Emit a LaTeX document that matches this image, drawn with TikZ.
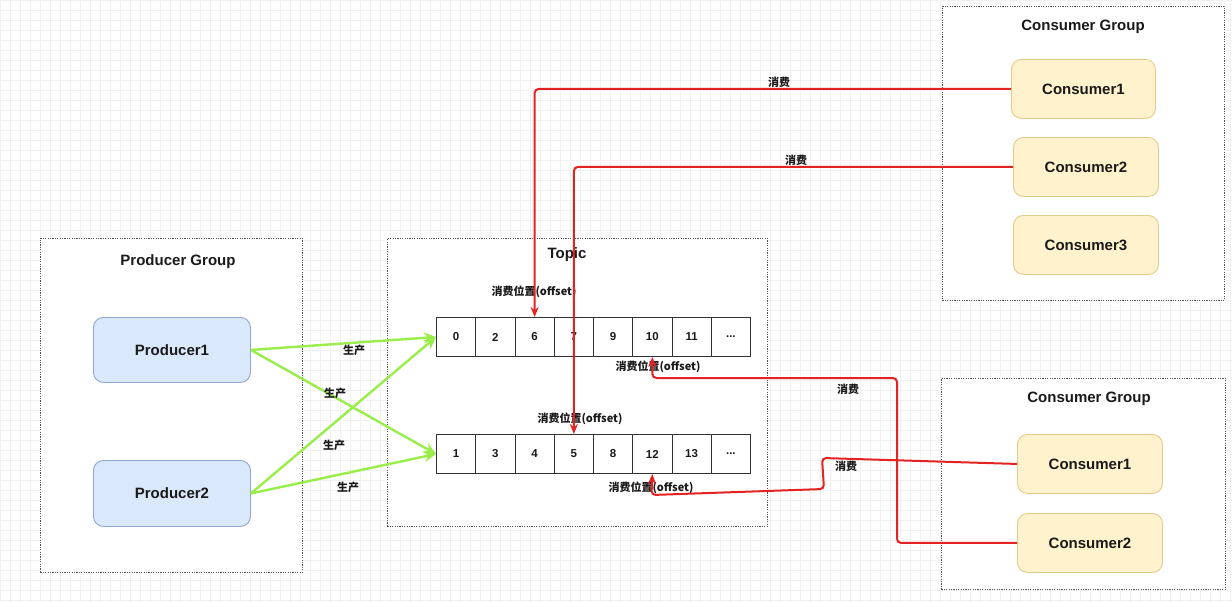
\documentclass[tikz,border=0pt]{standalone}
\usepackage{fontspec}
\setmainfont{Liberation Sans}
\newfontfamily\cjk{Noto Sans CJK SC}
\usetikzlibrary{arrows.meta}
\definecolor{gridc}{HTML}{F1F1F1}
\definecolor{grpline}{HTML}{555555}
\definecolor{prodfill}{HTML}{DAE8FC}
\definecolor{prodline}{HTML}{8FA7CC}
\definecolor{consfill}{HTML}{FFF2CC}
\definecolor{consline}{HTML}{E3CC8A}
\definecolor{celline}{HTML}{333333}
\definecolor{redc}{HTML}{E52222}
\definecolor{grn}{HTML}{99EE4A}
\definecolor{txt}{HTML}{1A1A1A}
\tikzset{
  grp/.style={draw=grpline, dash pattern=on 1.2pt off 1.2pt, fill=white, line width=0.9pt, anchor=north west, inner sep=0pt},
  grptitle/.style={text=txt, font=\bfseries\fontsize{15}{18}\selectfont},
  prod/.style={draw=prodline, fill=prodfill, rounded corners=10pt, line width=0.9pt, anchor=north west, inner sep=0pt, text=txt, font=\bfseries\fontsize{15}{18}\selectfont},
  cons/.style={draw=consline, fill=consfill, rounded corners=10pt, line width=0.9pt, anchor=north west, inner sep=0pt, text=txt, font=\bfseries\fontsize{15}{18}\selectfont},
  cell/.style={draw=celline, fill=white, minimum width=39.25pt, minimum height=39pt, anchor=north west, inner sep=0pt, line width=1pt, text=txt, font=\bfseries\fontsize{11.5}{13}\selectfont},
  lbl/.style={text=txt, inner sep=1pt, font=\cjk\bfseries\fontsize{11}{13}\selectfont},
  redline/.style={draw=redc, line width=2pt, rounded corners=4pt, -{Stealth[length=10pt,width=8pt]}},
  grnline/.style={draw=grn, line width=2.4pt, -{Stealth[length=12pt,width=11pt]}},
}
\begin{document}
\begin{tikzpicture}[x=1pt,y=-1pt]
\useasboundingbox (0,0) rectangle (1232,602);
\fill[white] (0,0) rectangle (1232,602);
\draw[gridc, line width=0.6pt] (0,0) grid[step=10pt] (1232,602);

% groups
\node[grp, minimum width=262pt, minimum height=334pt] (pg) at (40,238) {};
\node[grptitle] (pgt) at (178,262) {Producer Group};
\node[grp, minimum width=380pt, minimum height=288pt] (tp) at (387,238) {};
\node[grptitle] (tpt) at (567,255) {Topic};
\node[grp, minimum width=282pt, minimum height=294pt] (cg1) at (942,6) {};
\node[grptitle] (cg1t) at (1083,27) {Consumer Group};
\node[grp, minimum width=284pt, minimum height=211pt] (cg2) at (941,378) {};
\node[grptitle] (cg2t) at (1089,399) {Consumer Group};

% producers
\node[prod, minimum width=157pt, minimum height=65pt] (p1) at (93,317) {Producer1};
\node[prod, minimum width=157pt, minimum height=66pt] (p2) at (93,460) {Producer2};

% consumers
\node[cons, minimum width=144pt, minimum height=59pt] (c1) at (1011,59) {Consumer1};
\node[cons, minimum width=145pt, minimum height=59pt] (c2) at (1013,137) {Consumer2};
\node[cons, minimum width=145pt, minimum height=59pt] (c3) at (1013,215) {Consumer3};
\node[cons, minimum width=145pt, minimum height=59pt] (d1) at (1017,434) {Consumer1};
\node[cons, minimum width=145pt, minimum height=59pt] (d2) at (1017,513) {Consumer2};

% topic cells top row
\node[cell] (t0) at (436,317) {0};
\node[cell] (t1) at (475.25,317) {2};
\node[cell] (t2) at (514.5,317) {6};
\node[cell] (t3) at (553.75,317) {7};
\node[cell] (t4) at (593,317) {9};
\node[cell] (t5) at (632.25,317) {10};
\node[cell] (t6) at (671.5,317) {11};
\node[cell] (t7) at (710.75,317) {...};
% bottom row
\node[cell] (b0) at (436,434) {1};
\node[cell] (b1) at (475.25,434) {3};
\node[cell] (b2) at (514.5,434) {4};
\node[cell] (b3) at (553.75,434) {5};
\node[cell] (b4) at (593,434) {8};
\node[cell] (b5) at (632.25,434) {12};
\node[cell] (b6) at (671.5,434) {13};
\node[cell] (b7) at (710.75,434) {...};

% offset labels
\node[lbl] (o1) at (534,292) {消费位置(offset)};
\node[lbl] (o2) at (658,367) {消费位置(offset)};
\node[lbl] (o3) at (580,419) {消费位置(offset)};
\node[lbl] (o4) at (651,488) {消费位置(offset)};

% green connectors
\draw[grnline] (p1.east) -- (t0.west);
\draw[grnline] (p1.east) -- (b0.west);
\draw[grnline] (p2.east) -- (t0.west);
\draw[grnline] (p2.east) -- (b0.west);
\node[lbl] (g1) at (354,350) {生产};
\node[lbl] (g2) at (335,393) {生产};
\node[lbl] (g3) at (334,445) {生产};
\node[lbl] (g4) at (348,487) {生产};

% red connectors
\draw[redline] (c1.west) -| (t2.north);
\draw[redline] (c2.west) -| (b3.north);
\coordinate (r3a) at (822,458);
\coordinate (r3b) at (824,489);
\coordinate (r3c) at (651.5,495);
\draw[redline] (d1.west) -- (r3a) -- (r3b) -- (r3c) -- (b5.south);
\coordinate (r4) at (897,378);
\draw[redline] (d2.west) -| (r4) -| (t5.south);
\node[lbl] (k1) at (779,82) {消费};
\node[lbl] (k2) at (796,160) {消费};
\node[lbl] (k3) at (848,389) {消费};
\node[lbl] (k4) at (846,466) {消费};
\end{tikzpicture}
\end{document}
